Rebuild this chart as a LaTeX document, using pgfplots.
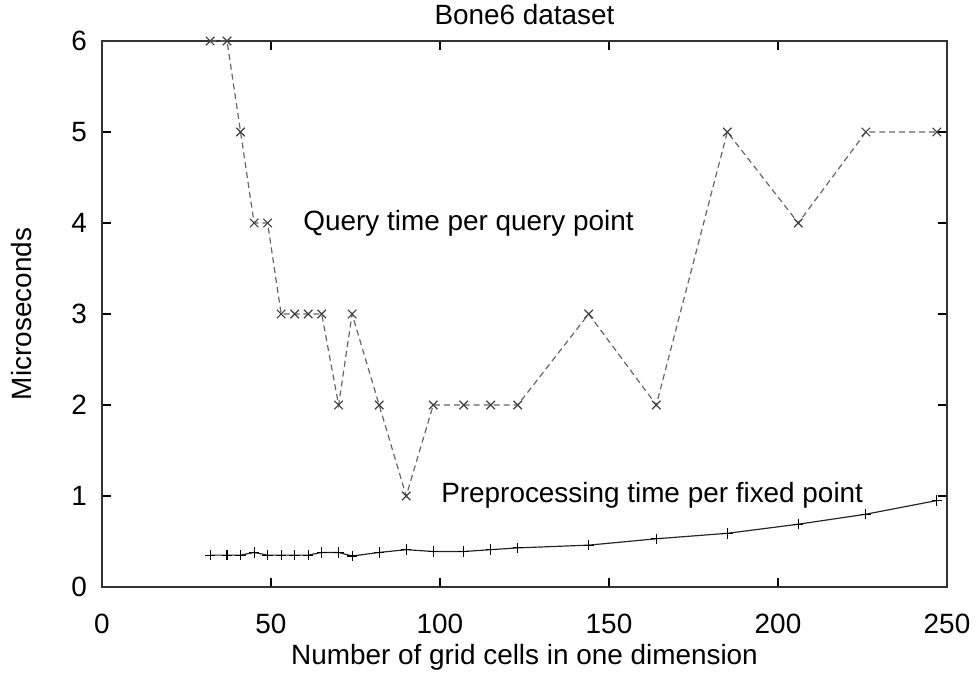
\documentclass[border=0pt]{standalone}
\usepackage{pgfplots}
\pgfplotsset{compat=1.18}
\usepackage{fontspec}
\setmainfont{Liberation Sans}

\begin{document}
\begin{tikzpicture}
  \path[use as bounding box] (-51bp,-45bp) rectangle (437bp,293.5bp);
  \begin{axis}[
      scale only axis,
      width=422.5bp, height=273bp,
      xmin=0, xmax=250, ymin=0, ymax=6,
      xtick={0,50,...,250}, ytick={0,1,...,6},
      tick align=inside, major tick length=4.5bp,
      axis line style={line width=1.1pt, black!80},
      every tick/.style={black, line width=0.9pt},
      tick label style={font=\fontsize{14}{16}\selectfont},
      xticklabel style={yshift=-10bp},
      yticklabel style={xshift=-4bp},
      /pgf/number format/assume math mode=true,
      xlabel={Number of grid cells in one dimension},
      ylabel={Microseconds},
      label style={font=\fontsize{14}{16}\selectfont},
      xlabel style={at={(axis description cs:0.5,-0.128)}, anchor=center},
      ylabel style={at={(axis description cs:-0.0947,0.5)}, anchor=center},
      clip=false,
    ]
    % query time per query point
    \addplot[densely dashed, black!60, line width=0.6pt,
      mark=x, mark size=3bp, mark options={solid, black!75, line width=0.6pt}]
      coordinates {
        (32,6) (37,6) (41,5) (45,4) (49,4) (53,3) (57,3) (61,3) (65,3)
        (70,2) (74,3) (82,2) (90,1) (98,2) (107,2) (115,2) (123,2)
        (144,3) (164,2) (185,5) (206,4) (226,5) (247,5)
      };
    % preprocessing time per fixed point
    \addplot[black!85, line width=0.6pt,
      mark=+, mark size=2.6bp, mark options={black, line width=0.6pt}]
      coordinates {
        (32,0.35) (37,0.35) (41,0.35) (45,0.38) (49,0.35) (53,0.35) (57,0.35)
        (61,0.35) (65,0.38) (70,0.38) (74,0.34) (82,0.38) (90,0.41) (98,0.39)
        (107,0.39) (115,0.41) (123,0.43) (144,0.46) (164,0.53) (185,0.59)
        (206,0.69) (226,0.80) (247,0.95)
      };
    \node[anchor=west, font=\fontsize{14}{16}\selectfont] at (axis cs:57.5,4) {Query time per query point};
    \node[anchor=west, font=\fontsize{14}{16}\selectfont] at (axis cs:98.3,1.01) {Preprocessing time per fixed point};
    \node[anchor=base, inner sep=0pt, font=\fontsize{14}{16}\selectfont, yshift=8.5bp] at (rel axis cs:0.5,1) {Bone6 dataset};
  \end{axis}
\end{tikzpicture}
\end{document}
